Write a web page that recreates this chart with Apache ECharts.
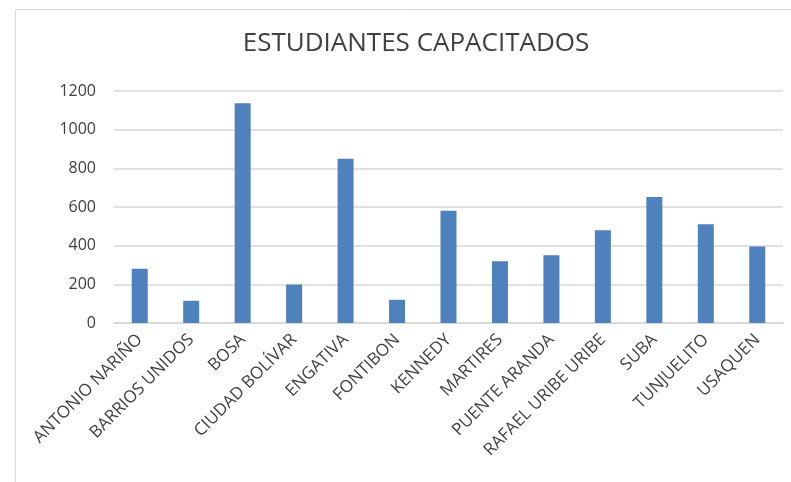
<!DOCTYPE html>
<html>
<head>
<meta charset="utf-8">
<script src="https://cdn.jsdelivr.net/npm/echarts@6/dist/echarts.min.js"></script>
<style>
html,body{margin:0;padding:0;background:#fff;}
#chart{width:791px;height:482px;}
</style>
</head>
<body>
<div id="chart"></div>
<script>
const categories = ["ANTONIO NARIÑO","BARRIOS UNIDOS","BOSA","CIUDAD BOLÍVAR","ENGATIVA","FONTIBON","KENNEDY","MARTIRES","PUENTE ARANDA","RAFAEL URIBE URIBE","SUBA","TUNJUELITO","USAQUEN"];
const values = [280, 115, 1136, 199, 849, 120, 580, 320, 351, 480, 652, 511, 396];
const titleText = "ESTUDIANTES CAPACITADOS";

const chart = echarts.init(document.getElementById('chart'));
chart.setOption({
  backgroundColor: '#ffffff',
  animation: false,
  graphic: [{
    type: 'rect',
    shape: {x: 15.5, y: 9.5, width: 800, height: 500},
    style: {fill: 'none', stroke: '#d9d9d9', lineWidth: 1},
    silent: true
  }],
  title: {
    text: titleText,
    left: 411, top: 26,
    textAlign: 'center',
    textStyle: {fontFamily: 'Open Sans', fontSize: 26, fontWeight: 'normal', color: '#404040'}
  },
  grid: {left: 114, right: 8, top: 91, bottom: 159},
  xAxis: {
    type: 'category',
    data: categories,
    axisLine: {show: true, lineStyle: {color: '#d9d9d9', width: 2}},
    axisTick: {show: false},
    axisLabel: {rotate: 45, interval: 0, margin: 14, fontFamily: 'Open Sans', fontSize: 17, color: '#404040'}
  },
  yAxis: {
    type: 'value',
    min: 0, max: 1200, interval: 200,
    axisLine: {show: false},
    axisTick: {show: false},
    splitLine: {lineStyle: {color: '#d9d9d9', width: 1.5}},
    axisLabel: {margin: 18, fontFamily: 'Open Sans', fontSize: 16, color: '#404040', formatter: v => String(v)}
  },
  series: [{
    type: 'bar',
    data: values,
    barWidth: 16,
    itemStyle: {color: '#4f81bd'}
  }]
});
</script>
</body>
</html>
